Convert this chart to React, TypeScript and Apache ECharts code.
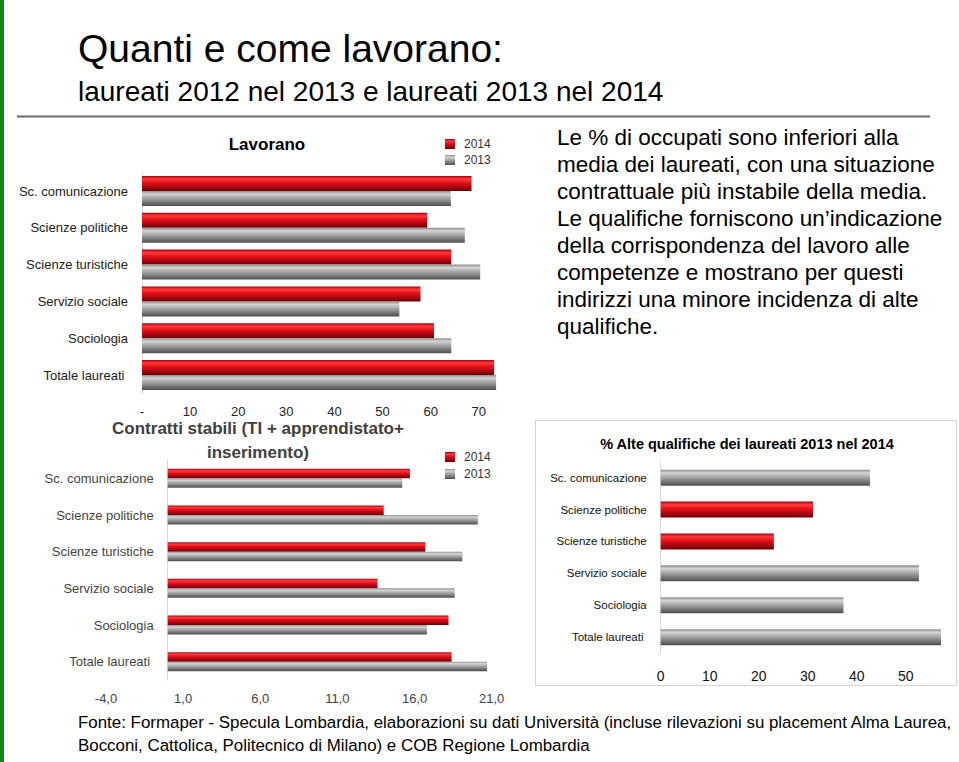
import React, { useEffect, useRef } from "react";
import * as echarts from "echarts";

const categories = [
  "Sc. comunicazione",
  "Scienze politiche",
  "Scienze turistiche",
  "Servizio sociale",
  "Sociologia",
  "Totale laureati ",
];
const lavorano2014 = [68.5, 59.3, 64.3, 57.9, 60.7, 73.2];
const lavorano2013 = [64.2, 67.1, 70.3, 53.5, 64.3, 73.6];
const contratti2014 = [15.7, 14.0, 16.7, 13.6, 18.2, 18.4];
const contratti2013 = [15.2, 20.1, 19.1, 18.6, 16.8, 20.7];
const altQualifiche = [42.7, 31.1, 23.1, 52.7, 37.3, 57.2];
const altQualificheRed = [false, true, true, false, false, false];
const legendNames = ["2014", "2013"];

const mainTitle = "Quanti e come lavorano:";
const subTitle = "laureati 2012 nel 2013 e laureati 2013 nel 2014";
const chart1Title = "Lavorano";
const chart2Title = ["Contratti stabili (TI + apprendistato+", "inserimento)"];
const chart3Title = "% Alte qualifiche dei laureati 2013 nel 2014";
const noteLines = [
  "Le % di occupati sono inferiori alla",
  "media dei laureati, con una situazione",
  "contrattuale più instabile della media.",
  "Le qualifiche forniscono un’indicazione",
  "della corrispondenza del lavoro alle",
  "competenze e mostrano per questi",
  "indirizzi una minore incidenza di alte",
  "qualifiche.",
];
const footerLines = [
  "Fonte: Formaper - Specula Lombardia, elaborazioni su dati Università (incluse rilevazioni su placement Alma Laurea,",
  "Bocconi, Cattolica, Politecnico di Milano) e COB Regione Lombardia",
];

const FONT = '"Liberation Sans", Arial, Helvetica, sans-serif';

const redGrad = () =>
  new echarts.graphic.LinearGradient(0, 0, 0, 1, [
    { offset: 0, color: "#a8000c" },
    { offset: 0.2, color: "#ff3b3b" },
    { offset: 0.45, color: "#e8101a" },
    { offset: 1, color: "#6e0006" },
  ]);
const grayGrad = () =>
  new echarts.graphic.LinearGradient(0, 0, 0, 1, [
    { offset: 0, color: "#8c8c8c" },
    { offset: 0.2, color: "#d4d4d4" },
    { offset: 0.5, color: "#a2a2a2" },
    { offset: 1, color: "#4e4e4e" },
  ]);

// chart 2 geometry: value axis from -4 to 21; category axis drawn at value 0
const c2Left = 106;
const c2Width = 385.7;
const c2Min = -4;
const c2Max = 21;

export default function App() {
  const ref = useRef<HTMLDivElement>(null);
  useEffect(() => {
    if (!ref.current) return;
    const chart = echarts.init(ref.current, null, { renderer: "svg" });

    const catAxis = (gridIndex: number, color: string, fontSize: number, offset = 0) => ({
      type: "category",
      gridIndex,
      inverse: true,
      data: categories,
      offset,
      axisTick: { show: false },
      axisLine: { show: true, onZero: false, lineStyle: { color: "#d9d9d9", width: 1 } },
      axisLabel: { margin: 14, fontSize, color, fontFamily: FONT },
      splitLine: { show: false },
    });

    const graphics: any[] = [
      { type: "rect", shape: { x: 0, y: 0, width: 4, height: 762 }, style: { fill: "#0c860c" } },
      { type: "line", shape: { x1: 17, y1: 116.5, x2: 930, y2: 116.5 }, style: { stroke: "#6b6b6b", lineWidth: 2 } },
      { type: "rect", shape: { x: 535.5, y: 420.5, width: 421, height: 265 }, style: { fill: "none", stroke: "#d4d4d4", lineWidth: 1 } },
      { type: "text", x: 78, y: 48, style: { text: mainTitle, font: `39px ${FONT}`, fill: "#000", textVerticalAlign: "middle" } },
      { type: "text", x: 78, y: 91, style: { text: subTitle, font: `28px ${FONT}`, fill: "#000", textVerticalAlign: "middle" } },
      { type: "text", x: 267, y: 144, style: { text: chart1Title, font: `bold 17px ${FONT}`, fill: "#000", textAlign: "center", textVerticalAlign: "middle" } },
      { type: "text", x: 258, y: 428, style: { text: chart2Title[0], font: `bold 17px ${FONT}`, fill: "#404040", textAlign: "center", textVerticalAlign: "middle" } },
      { type: "text", x: 258, y: 452, style: { text: chart2Title[1], font: `bold 17px ${FONT}`, fill: "#404040", textAlign: "center", textVerticalAlign: "middle" } },
      { type: "text", x: 747, y: 444, style: { text: chart3Title, font: `bold 14.5px ${FONT}`, fill: "#000", textAlign: "center", textVerticalAlign: "middle" } },
    ];
    noteLines.forEach((t, i) => {
      graphics.push({ type: "text", x: 557, y: 137 + i * 27, style: { text: t, font: `22.5px ${FONT}`, fill: "#000", textVerticalAlign: "middle" } });
    });
    footerLines.forEach((t, i) => {
      graphics.push({ type: "text", x: 78, y: 722 + i * 23, style: { text: t, font: `16.9px ${FONT}`, fill: "#000", textVerticalAlign: "middle" } });
    });

    const zeroOffset = -((0 - c2Min) / (c2Max - c2Min)) * c2Width;

    const option: any = {
      animation: false,
      backgroundColor: "#ffffff",
      textStyle: { fontFamily: FONT },
      grid: [
        { left: 142, top: 172.6, width: 356, height: 220.8, outerBoundsMode: "none", containLabel: false },
        { left: c2Left, top: 460, width: c2Width, height: 220, outerBoundsMode: "none", containLabel: false },
        { left: 660.7, top: 461.7, width: 284.2, height: 191.4, outerBoundsMode: "none", containLabel: false },
      ],
      legend: [
        {
          data: legendNames, left: 445, top: 138, orient: "vertical", icon: "rect",
          itemWidth: 10, itemHeight: 10, itemGap: 4, padding: 0,
          textStyle: { fontSize: 12, color: "#333", padding: [0, 0, 0, 4] },
        },
        {
          data: legendNames, left: 445, top: 451, orient: "vertical", icon: "rect",
          itemWidth: 10, itemHeight: 10, itemGap: 5, padding: 0,
          textStyle: { fontSize: 12, color: "#333", padding: [0, 0, 0, 4] },
        },
      ],
      xAxis: [
        {
          type: "value", gridIndex: 0, min: 0, max: 74, interval: 10,
          axisLine: { show: false }, axisTick: { show: false }, splitLine: { show: false },
          axisLabel: { margin: 12, fontSize: 13, color: "#222", showMaxLabel: false, formatter: (v: number) => (v === 0 ? "-" : String(v)) },
        },
        {
          type: "value", gridIndex: 1, min: c2Min, max: c2Max, interval: 5,
          axisLine: { show: false }, axisTick: { show: false }, splitLine: { show: false },
          axisLabel: { margin: 12, fontSize: 13, color: "#444", formatter: (v: number) => v.toFixed(1).replace(".", ",") },
        },
        {
          type: "value", gridIndex: 2, min: 0, max: 58, interval: 10,
          axisLine: { show: false }, axisTick: { show: false }, splitLine: { show: false },
          axisLabel: { margin: 16, fontSize: 14, color: "#111", showMaxLabel: false },
        },
      ],
      yAxis: [catAxis(0, "#222", 13), catAxis(1, "#444", 13, zeroOffset), catAxis(2, "#111", 11.5)],
      series: [
        { type: "bar", name: "2014", xAxisIndex: 0, yAxisIndex: 0, data: lavorano2014, barWidth: 15, barGap: "0%", itemStyle: { color: redGrad() } },
        { type: "bar", name: "2013", xAxisIndex: 0, yAxisIndex: 0, data: lavorano2013, barWidth: 15, barGap: "0%", itemStyle: { color: grayGrad() } },
        { type: "bar", name: "2014", xAxisIndex: 1, yAxisIndex: 1, data: contratti2014, barWidth: 9.5, barGap: "0%", itemStyle: { color: redGrad() } },
        { type: "bar", name: "2013", xAxisIndex: 1, yAxisIndex: 1, data: contratti2013, barWidth: 9.5, barGap: "0%", itemStyle: { color: grayGrad() } },
        {
          type: "bar", name: "Alte qualifiche", xAxisIndex: 2, yAxisIndex: 2, barWidth: 16,
          data: altQualifiche.map((v, i) => ({ value: v, itemStyle: { color: altQualificheRed[i] ? redGrad() : grayGrad() } })),
        },
      ],
      graphic: graphics,
    };
    chart.setOption(option);
    return () => chart.dispose();
  }, []);

  return (
    <div
      ref={ref}
      style={{ position: "fixed", left: 0, top: 0, width: 959, height: 762, background: "#fff" }}
    />
  );
}
